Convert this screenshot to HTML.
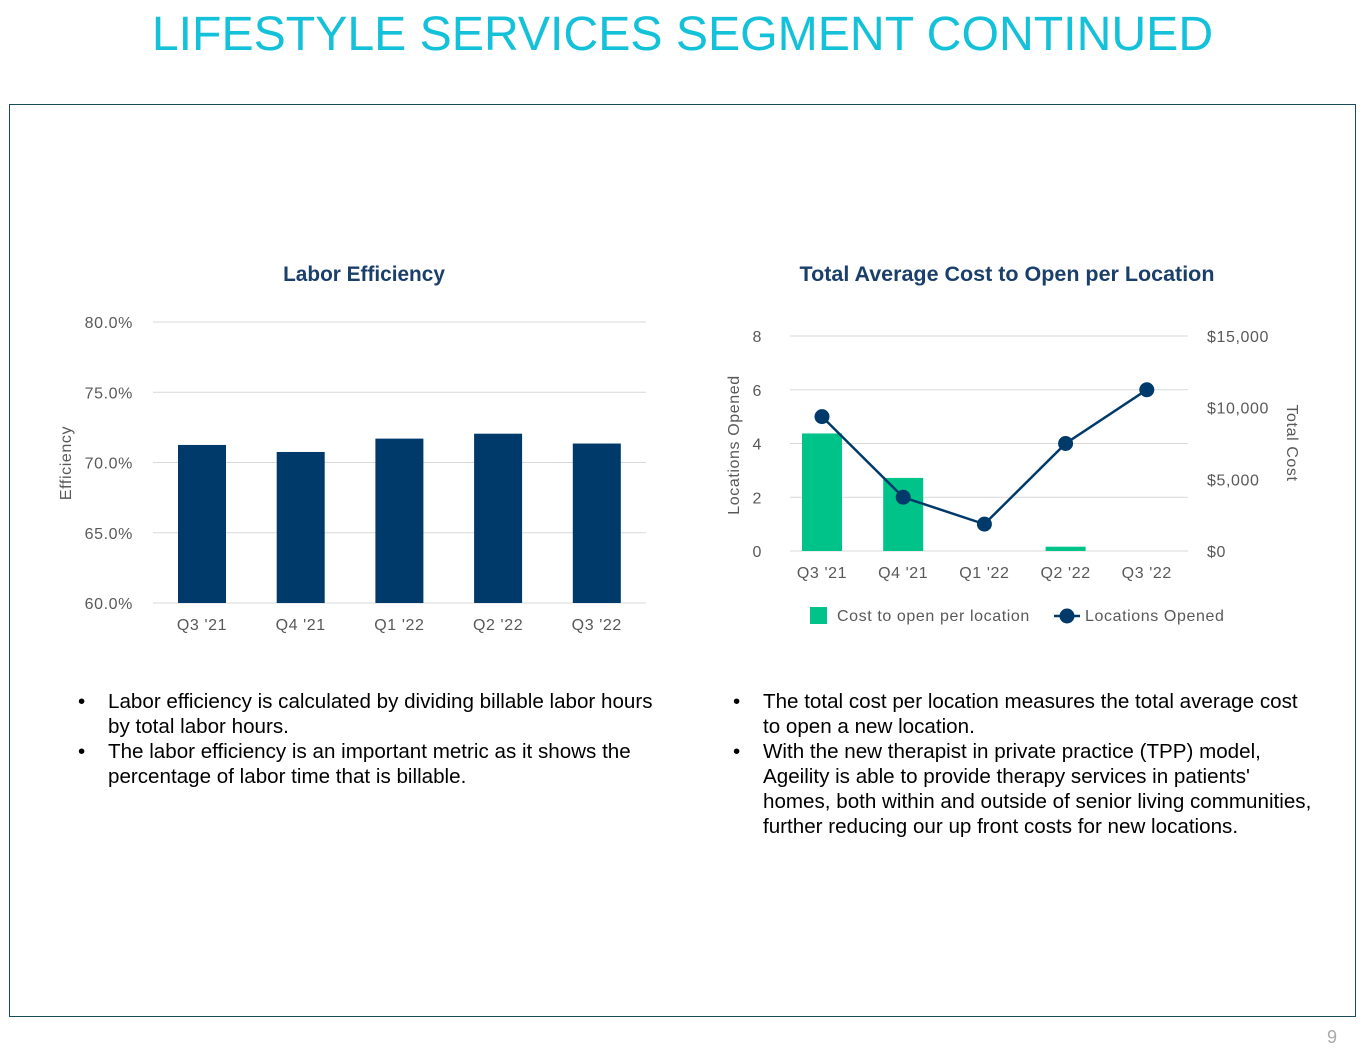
<!DOCTYPE html>
<html><head><meta charset="utf-8"><style>
body{margin:0;width:1365px;height:1055px;background:#fff;position:relative;font-family:"Liberation Sans",sans-serif;overflow:hidden}
.abs{position:absolute}
ul{margin:0;padding:0;list-style:none}
li{position:relative;padding-left:30px;font-size:20.6px;line-height:25px;color:#000}
li:before{content:"•";position:absolute;left:0}
</style></head><body>
<div class="abs" style="left:0;width:1365px;top:6px;text-align:center;font-size:48.2px;color:#13c1d8">LIFESTYLE SERVICES SEGMENT CONTINUED</div>
<div class="abs" style="left:9px;top:104px;width:1345px;height:911px;border:1.5px solid #1b4a5c"></div>
<svg class="abs" style="left:0;top:0" width="1365" height="1055">
<g id="left"></g>
<g id="right"></g>
</svg>
<ul class="abs" style="left:78px;top:689px;width:600px">
<li>Labor efficiency is calculated by dividing billable labor hours by total labor hours.</li>
<li>The labor efficiency is an important metric as it shows the percentage of labor time that is billable.</li>
</ul>
<ul class="abs" style="left:733px;top:689px;width:582px">
<li>The total cost per location measures the total average cost to open a new location.</li>
<li>With the new therapist in private practice (TPP) model, Ageility is able to provide therapy services in patients' homes, both within and outside of senior living communities, further reducing our up front costs for new locations.</li>
</ul>
<div class="abs" style="left:1327px;top:1027px;font-size:18px;color:#aaa">9</div>
<script>
const categories=["Q3 '21","Q4 '21","Q1 '22","Q2 '22","Q3 '22"];
const efficiency=[71.25,70.75,71.7,72.05,71.35];
const effTicks=[60,65,70,75,80];
const costPerLocation=[8200,5100,0,300,0];
const locationsOpened=[5,2,1,4,6];
const locTicks=[0,2,4,6,8];
const costTicks=[0,5000,10000,15000];
const NS="http://www.w3.org/2000/svg";
function mk(p,t,a,txt){const e=document.createElementNS(NS,t);for(const k in a)e.setAttribute(k,a[k]);if(txt!==undefined)e.textContent=txt;p.appendChild(e);return e;}
const L=document.getElementById('left'),R=document.getElementById('right');
const lbl={fill:"#595959","font-size":"16","font-family":"Liberation Sans, sans-serif","letter-spacing":"0.6"};
// left chart
mk(L,'text',{x:364,y:281,"text-anchor":"middle","font-size":"20.8","font-weight":"bold",fill:"#1b3f6b","font-family":"Liberation Sans"},"Labor Efficiency");
const ly=v=>603-(v-60)*(281/20), lx=i=>202+i*98.7;
effTicks.forEach(t=>{
 const g=mk(L,'line',{x1:153,x2:646,y1:ly(t),y2:ly(t),stroke:"#d9d9d9"});
 
 const e=mk(L,'text',Object.assign({x:133,y:ly(t)+6,"text-anchor":"end"},lbl),t.toFixed(1)+"%");
 
});
efficiency.forEach((v,i)=>{
 const b=mk(L,'rect',{x:lx(i)-24,y:ly(v),width:48,height:603-ly(v),fill:"#003a6b"});
 
 const t=mk(L,'text',Object.assign({x:lx(i),y:630,"text-anchor":"middle"},lbl),categories[i]);
 
});
mk(L,'text',Object.assign({transform:"translate(71,463) rotate(-90)","text-anchor":"middle"},lbl),"Efficiency");
// right chart
mk(R,'text',{x:1007,y:281,"text-anchor":"middle","font-size":"21.5","font-weight":"bold",fill:"#1b3f6b","font-family":"Liberation Sans"},"Total Average Cost to Open per Location");
const ry=v=>551-v*(215/8), cy=v=>551-v*(215/15000), rx=i=>822+i*81.2;
locTicks.forEach(t=>{
 const g=mk(R,'line',{x1:790,x2:1188,y1:ry(t),y2:ry(t),stroke:"#d9d9d9"});
 
 const e=mk(R,'text',Object.assign({x:762,y:ry(t)+6,"text-anchor":"end"},lbl),t);
 
});
costTicks.forEach(t=>{
 const e=mk(R,'text',Object.assign({x:1207,y:cy(t)+6},lbl),"$"+t.toLocaleString('en-US'));
 
});
costPerLocation.forEach((v,i)=>{
 const b=mk(R,'rect',{x:rx(i)-20,y:cy(v),width:40,height:551-cy(v),fill:"#00c389"});
 
 const t=mk(R,'text',Object.assign({x:rx(i),y:578,"text-anchor":"middle"},lbl),categories[i]);
 
});
mk(R,'polyline',{points:locationsOpened.map((v,i)=>rx(i)+","+ry(v)).join(" "),fill:"none",stroke:"#003a6b","stroke-width":2.5});
locationsOpened.forEach((v,i)=>{
 const c=mk(R,'circle',{cx:rx(i),cy:ry(v),r:7.5,fill:"#003a6b"});
 
});
mk(R,'text',Object.assign({transform:"translate(739,445) rotate(-90)","text-anchor":"middle"},lbl),"Locations Opened");
mk(R,'text',Object.assign({transform:"translate(1287,443) rotate(90)","text-anchor":"middle"},lbl),"Total Cost");
mk(R,'rect',{x:810,y:607,width:17,height:17,fill:"#00c389"});
mk(R,'text',Object.assign({x:837,y:621},lbl),"Cost to open per location");
mk(R,'line',{x1:1054,x2:1080,y1:616,y2:616,stroke:"#003a6b","stroke-width":2.5});
mk(R,'circle',{cx:1067,cy:616,r:7.5,fill:"#003a6b"});
mk(R,'text',Object.assign({x:1085,y:621},lbl),"Locations Opened");
</script>
</body></html>
